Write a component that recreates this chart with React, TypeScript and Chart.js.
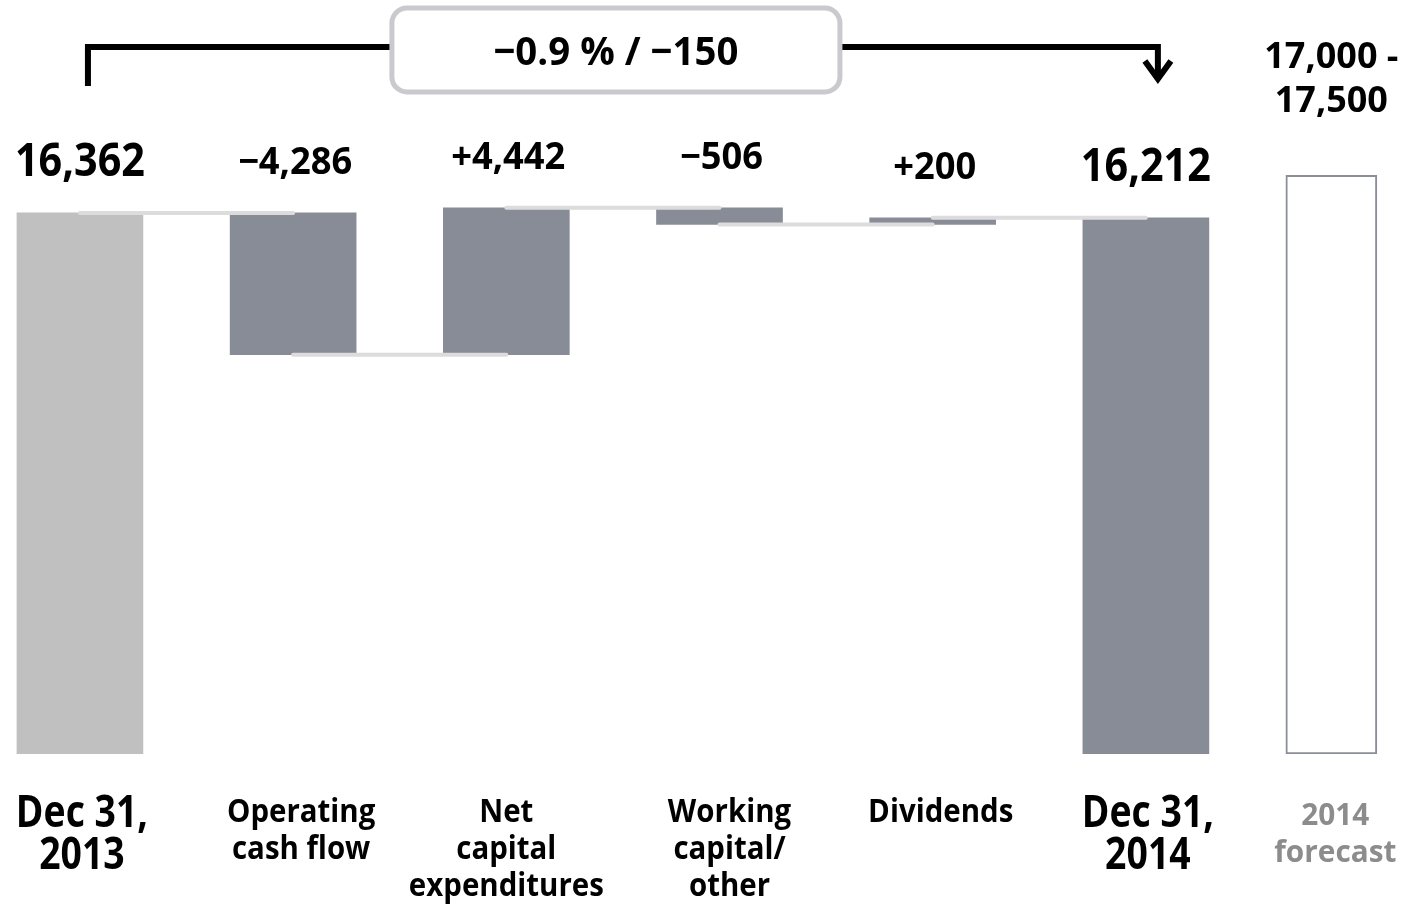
import React, { useEffect, useRef } from "react";
import { Chart, registerables } from "chart.js";

Chart.register(...registerables);

// ---- data (EUR million) ----
const categories: string[][] = [
  ["Dec 31,", "2013"],
  ["Operating", "cash flow"],
  ["Net", "capital", "expenditures"],
  ["Working", "capital/", "other"],
  ["Dividends"],
  ["Dec 31,", "2014"],
];
const forecastCategory: string[] = ["2014", "forecast"];
const openingBalance = 16362;
const changes: number[] = [-4286, 4442, -506, 200];
const closingBalance = 16212;
const forecastRange: number[] = [17000, 17500];
const changeSummary = "−0.9 % / −150";

// x position of the forecast column on the linear axis
const forecastSlot = 5.87;

const FONT = '"Open Sans", "Noto Sans", sans-serif';
const DARK_BAR = "#888c97";
const LIGHT_BAR = "#c0c0c0";
const CONNECTOR = "#dcdcdc";

// horizontal nudges (px) for the category captions
const captionNudge = [2, 8, 0, 10, 8, 2];

const fmt = (v: number) => Math.abs(v).toLocaleString("en-US");
const signed = (v: number) => (v < 0 ? "−" : "+") + fmt(v);

// running totals -> floating bar ranges
const steps: [number, number][] = [[0, openingBalance]];
let running = openingBalance;
for (const c of changes) {
  steps.push([running, running + c]);
  running += c;
}
steps.push([0, closingBalance]);

const levels: number[] = [openingBalance];
{
  let r = openingBalance;
  for (const c of changes) {
    r += c;
    levels.push(r);
  }
}

const valueLabels = [fmt(openingBalance), ...changes.map(signed), fmt(closingBalance)];

function drawLines(
  ctx: CanvasRenderingContext2D,
  lines: string[],
  x: number,
  baseline: number,
  lineHeight: number,
  size: number,
  color: string,
  squeeze = 0.88
) {
  ctx.save();
  ctx.font = `700 ${size}px ${FONT}`;
  ctx.fillStyle = color;
  ctx.textAlign = "center";
  ctx.textBaseline = "alphabetic";
  lines.forEach((line, i) => {
    ctx.save();
    ctx.translate(x, baseline + i * lineHeight);
    ctx.scale(squeeze, 1);
    ctx.fillText(line, 0, 0);
    ctx.restore();
  });
  ctx.restore();
}

function roundRect(ctx: CanvasRenderingContext2D, x: number, y: number, w: number, h: number, r: number) {
  ctx.beginPath();
  ctx.moveTo(x + r, y);
  ctx.lineTo(x + w - r, y);
  ctx.arcTo(x + w, y, x + w, y + r, r);
  ctx.lineTo(x + w, y + h - r);
  ctx.arcTo(x + w, y + h, x + w - r, y + h, r);
  ctx.lineTo(x + r, y + h);
  ctx.arcTo(x, y + h, x, y + h - r, r);
  ctx.lineTo(x, y + r);
  ctx.arcTo(x, y, x + r, y, r);
  ctx.closePath();
}

const labelsPlugin = {
  id: "waterfallLabels",
  afterDatasetsDraw(chart: any) {
    const ctx: CanvasRenderingContext2D = chart.ctx;
    const xs = chart.scales.x;
    const ys = chart.scales.y;
    const bottom = chart.chartArea.bottom;
    const last = steps.length - 1;

    // value labels above each bar
    steps.forEach((s, i) => {
      const top = ys.getPixelForValue(Math.max(s[0], s[1]));
      const total = i === 0 || i === last;
      const cx = xs.getPixelForValue(i);
      if (total) drawLines(ctx, [valueLabels[i]], cx, top - 37, 0, 47, "#000", 0.88);
      else drawLines(ctx, [valueLabels[i]], cx + 2, top - 39, 0, 37, "#000", 0.98);
    });

    // category labels
    categories.forEach((lines, i) => {
      const total = i === 0 || i === last;
      const cx = xs.getPixelForValue(i) + captionNudge[i];
      if (total) drawLines(ctx, lines, cx, bottom + 73, 42, 44, "#000", 0.85);
      else drawLines(ctx, lines, cx, bottom + 68, 37, 32, "#000", 0.92);
    });

    // forecast column texts
    const fx = xs.getPixelForValue(forecastSlot);
    drawLines(ctx, forecastCategory, fx + 4, bottom + 71, 37, 31, "#8c8c8c", 0.96);
    drawLines(ctx, [fmt(forecastRange[0]) + " -", fmt(forecastRange[1])], fx, 68, 44, 36, "#000", 1.0);

    // bracket from opening to closing balance
    const x0 = xs.getPixelForValue(0) + 8;
    const x1 = xs.getPixelForValue(last) + 12;
    const lineY = 47;
    ctx.save();
    ctx.strokeStyle = "#000";
    ctx.lineWidth = 6;
    ctx.lineCap = "butt";
    ctx.lineJoin = "miter";
    ctx.beginPath();
    ctx.moveTo(x0, 86);
    ctx.lineTo(x0, lineY);
    ctx.lineTo(x1, lineY);
    ctx.lineTo(x1, 78);
    ctx.stroke();
    ctx.beginPath();
    ctx.moveTo(x1 - 13, 61);
    ctx.lineTo(x1, 79);
    ctx.lineTo(x1 + 13, 61);
    ctx.stroke();
    ctx.restore();

    // change summary box
    const boxW = 448;
    const boxH = 84;
    const boxCx = (xs.getPixelForValue(0) + xs.getPixelForValue(last)) / 2 + 3;
    const bx = boxCx - boxW / 2;
    const by = 8;
    ctx.save();
    roundRect(ctx, bx, by, boxW, boxH, 15);
    ctx.fillStyle = "#ffffff";
    ctx.fill();
    ctx.lineWidth = 5;
    ctx.strokeStyle = "#c9c9ce";
    ctx.stroke();
    ctx.restore();
    drawLines(ctx, [changeSummary], boxCx, 65, 0, 40, "#000", 0.96);
  },
};

export default function App() {
  const canvasRef = useRef<HTMLCanvasElement | null>(null);

  useEffect(() => {
    if (!canvasRef.current) return;

    const barData = steps.map((s, i) => ({ x: i, y: s }));
    const barColors = steps.map((_, i) => (i === 0 ? LIGHT_BAR : DARK_BAR));

    const connectorData: { x: number; y: number | null }[] = [];
    levels.forEach((lv, i) => {
      connectorData.push({ x: i, y: lv });
      connectorData.push({ x: i + 1, y: lv });
      if (i < levels.length - 1) connectorData.push({ x: i + 1.5, y: null });
    });

    const chart = new Chart(canvasRef.current, {
      data: {
        datasets: [
          {
            type: "line",
            data: connectorData as any,
            borderColor: CONNECTOR,
            borderWidth: 4,
            borderCapStyle: "round",
            pointRadius: 0,
            spanGaps: false,
            order: 0,
          },
          {
            type: "bar",
            data: barData as any,
            backgroundColor: barColors,
            borderWidth: 0,
            barThickness: 126,
            grouped: false,
            order: 1,
          },
          {
            type: "bar",
            data: [{ x: forecastSlot, y: [0, forecastRange[1]] }] as any,
            backgroundColor: "#ffffff",
            borderColor: "#8a8e98",
            borderWidth: 2,
            borderSkipped: false,
            barThickness: 91,
            grouped: false,
            order: 2,
          },
        ],
      },
      options: {
        responsive: false,
        animation: false,
        layout: { padding: { top: 0, left: 0, right: 0, bottom: 150 } },
        plugins: { legend: { display: false }, tooltip: { enabled: false } },
        scales: {
          x: { type: "linear", min: -0.375, max: 6.253, offset: false, display: false },
          y: { type: "linear", min: 0, max: 22800, display: false },
        },
      },
      plugins: [labelsPlugin],
    } as any);

    return () => chart.destroy();
  }, []);

  return (
    <div style={{ position: "fixed", left: 0, top: 0, width: 1413, height: 904, background: "#fff" }}>
      <canvas ref={canvasRef} width={1413} height={904} />
    </div>
  );
}
